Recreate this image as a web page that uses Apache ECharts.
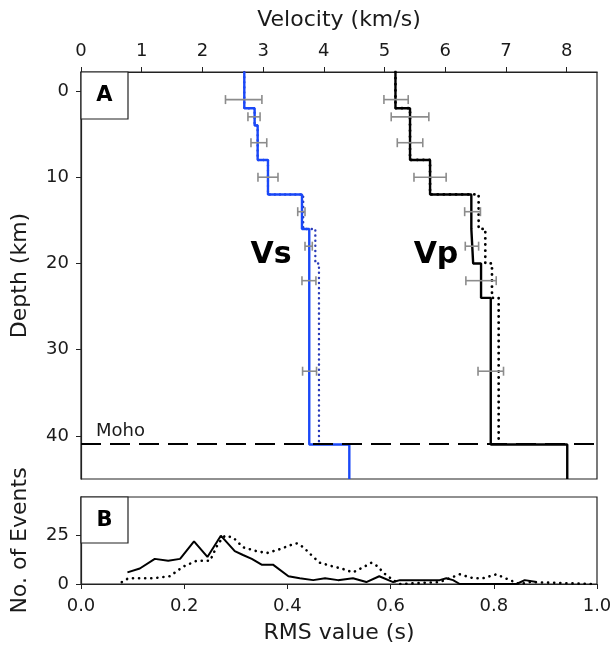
<!DOCTYPE html>
<html>
<head>
<meta charset="utf-8">
<script src="https://cdn.jsdelivr.net/npm/echarts@6/dist/echarts.min.js"></script>
<style>
html,body{margin:0;padding:0;background:#fff;}
#chart{width:615px;height:649px;}
</style>
</head>
<body>
<div id="chart"></div>
<script>
// ---------------- DATA ----------------
// Panel A: velocity models (layer boundaries in km, velocities in km/s)
const vsBounds    = [-2.2, 2, 4, 8, 12, 16, 41, 45];
const vsFinal     = [2.69, 2.86, 2.91, 3.08, 3.64, 3.76, 4.42];
const vsInitBounds= [-2.2, 2, 4, 8, 12, 16, 20, 41];
const vsInitial   = [2.69, 2.86, 2.91, 3.08, 3.66, 3.86, 3.92];

const vpBounds    = [-2.2, 2, 8, 12, 16, 20, 24, 41, 45];
const vpFinal     = [5.18, 5.42, 5.75, 6.43, 6.46, 6.59, 6.75, 8.01];
const vpInitBounds= [-2.2, 2, 8, 12, 16, 20, 24, 41];
const vpInitial   = [5.18, 5.42, 5.75, 6.55, 6.66, 6.77, 6.88];

// Error bars (depth, centre, half-width)
const errDepth    = [1, 3, 6, 10, 14, 18, 22, 32.5];
const vsErrCenter = [2.68, 2.85, 2.93, 3.08, 3.63, 3.75, 3.755, 3.765];
const vsErrHalf   = [0.30, 0.10, 0.13, 0.165, 0.06, 0.06, 0.115, 0.115];
const vpErrCenter = [5.19, 5.42, 5.42, 5.75, 6.45, 6.44, 6.59, 6.75];
const vpErrHalf   = [0.20, 0.31, 0.21, 0.265, 0.13, 0.11, 0.25, 0.21];

const mohoDepth = 40.9;

// Panel B: RMS distributions
const rmsSolidX = [0.090,0.114,0.143,0.169,0.192,0.219,0.245,0.271,0.298,0.314,0.331,0.350,0.372,0.402,0.424,0.450,0.473,0.498,0.527,0.553,0.578,0.605,0.618,0.695,0.708,0.721,0.734,0.844,0.860,0.883];
const rmsSolidN = [6,8,13,12,13,22,14,25,17,15,13,10,10,4,3,2,3,2,3,1,4,1,2,2,3,2,0,0,2,1];
const rmsDotX = [0.079,0.092,0.110,0.140,0.172,0.198,0.224,0.250,0.266,0.279,0.295,0.314,0.340,0.360,0.385,0.405,0.418,0.431,0.450,0.463,0.489,0.505,0.527,0.542,0.563,0.576,0.585,0.605,0.618,0.695,0.734,0.760,0.779,0.805,0.831,0.850,0.870,0.990];
const rmsDotN = [1,3,3,3,4,9,12,12,21,25,24,19,17,16,18,20,21,19,14,11,9,8,6,8,11,9,6,2,0,1,5,3,3,5,2,0,1,0];

// Ticks
const velTicks   = [0,1,2,3,4,5,6,7,8];
const depthTicks = [0,10,20,30,40];
const rmsTicks   = [0,0.2,0.4,0.6,0.8,1.0];
const eventTicks = [0,25];

// ---------------- HELPERS ----------------
function stepPoints(bounds, vals){
  const pts = [];
  for (let i = 0; i < vals.length; i++){
    pts.push([vals[i], bounds[i]]);
    pts.push([vals[i], bounds[i+1]]);
  }
  return pts;
}
function zip2(a, b){ return a.map((v,i)=>[v, b[i]]); }
function zip3(a, b, c){ return a.map((v,i)=>[v, b[i], c[i]]); }

const FONT = '"DejaVu Sans", sans-serif';
const TXT = '#1a1a1a';
const AX = '#222';

function errRender(params, api){
  const c = api.value(0), d = api.value(1), h = api.value(2);
  const p1 = api.coord([c - h, d]);
  const p2 = api.coord([c + h, d]);
  const cap = 4.5;
  const st = {stroke:'#8c8c8c', lineWidth:1.6};
  return {type:'group', children:[
    {type:'line', shape:{x1:p1[0],y1:p1[1],x2:p2[0],y2:p2[1]}, style:st},
    {type:'line', shape:{x1:p1[0],y1:p1[1]-cap,x2:p1[0],y2:p1[1]+cap}, style:st},
    {type:'line', shape:{x1:p2[0],y1:p2[1]-cap,x2:p2[0],y2:p2[1]+cap}, style:st}
  ]};
}

const axisCommon = {
  axisLine:{show:true, onZero:false, lineStyle:{color:AX, width:1.2}},
  splitLine:{show:false},
  nameTextStyle:{fontFamily:FONT, fontSize:22, color:TXT},
};

const blue = '#1a48f8';
const blueDot = '#2a3ab8';

const option = {
  animation:false,
  backgroundColor:'#fff',
  grid:[
    {left:81, top:72, width:516, height:407, show:true, borderColor:AX, borderWidth:1.2, containLabel:false, outerBoundsMode:'none'},
    {left:81, top:497, width:516, height:87, show:true, borderColor:AX, borderWidth:1.2, containLabel:false, outerBoundsMode:'none'}
  ],
  xAxis:[
    Object.assign({}, axisCommon, {
      gridIndex:0, type:'value', position:'top', min:0, max:8.5,
      name:'Velocity (km/s)', nameLocation:'middle', nameGap:41,
      axisTick:{show:true, length:5, inside:false, lineStyle:{color:AX}, customValues:velTicks},
      axisLabel:{fontFamily:FONT, fontSize:18, color:TXT, margin:12, customValues:velTicks}
    }),
    Object.assign({}, axisCommon, {
      gridIndex:1, type:'value', position:'bottom', min:0, max:1, interval:0.2,
      name:'RMS value (s)', nameLocation:'middle', nameGap:38,
      axisTick:{show:true, length:5, inside:false, lineStyle:{color:AX}, customValues:rmsTicks},
      axisLabel:{fontFamily:FONT, fontSize:18, color:TXT, margin:13, customValues:rmsTicks,
                 formatter:(v)=>Number(v).toFixed(1)}
    })
  ],
  yAxis:[
    Object.assign({}, axisCommon, {
      gridIndex:0, type:'value', inverse:true, min:-2.2, max:45,
      name:'Depth (km)', nameLocation:'middle', nameGap:50,
      axisTick:{show:true, length:5, inside:false, lineStyle:{color:AX}, customValues:depthTicks},
      axisLabel:{fontFamily:FONT, fontSize:18, color:TXT, margin:12, customValues:depthTicks}
    }),
    Object.assign({}, axisCommon, {
      gridIndex:1, type:'value', min:0, max:45,
      name:'No. of Events', nameLocation:'middle', nameGap:50,
      axisTick:{show:true, length:5, inside:false, lineStyle:{color:AX}, customValues:eventTicks},
      axisLabel:{fontFamily:FONT, fontSize:18, color:TXT, margin:12, customValues:eventTicks}
    })
  ],
  series:[
    {type:'line', xAxisIndex:0, yAxisIndex:0, data:stepPoints(vsInitBounds, vsInitial),
     showSymbol:false, silent:true, z:2,
     lineStyle:{color:blueDot, width:2.4, type:[0.1,5], cap:'round'}},
    {type:'line', xAxisIndex:0, yAxisIndex:0, data:stepPoints(vpInitBounds, vpInitial),
     showSymbol:false, silent:true, z:2,
     lineStyle:{color:'#000', width:2.8, type:[0.1,6], cap:'round'}},
    {type:'line', xAxisIndex:0, yAxisIndex:0, data:stepPoints(vsBounds, vsFinal),
     showSymbol:false, silent:true, z:3,
     lineStyle:{color:blue, width:2.4}},
    {type:'line', xAxisIndex:0, yAxisIndex:0, data:stepPoints(vpBounds, vpFinal),
     showSymbol:false, silent:true, z:3,
     lineStyle:{color:'#000', width:2.4},
     markLine:{silent:true, symbol:'none', animation:false,
       data:[{yAxis:mohoDepth}],
       lineStyle:{color:'#000', width:2, type:[20,9]},
       label:{show:false}}},
    {type:'custom', xAxisIndex:0, yAxisIndex:0, z:4, silent:true,
     data:zip3(vsErrCenter, errDepth, vsErrHalf), encode:{x:0, y:1}, renderItem:errRender},
    {type:'custom', xAxisIndex:0, yAxisIndex:0, z:4, silent:true,
     data:zip3(vpErrCenter, errDepth, vpErrHalf), encode:{x:0, y:1}, renderItem:errRender},
    {type:'line', xAxisIndex:1, yAxisIndex:1, data:zip2(rmsDotX, rmsDotN),
     showSymbol:false, silent:true,
     lineStyle:{color:'#000', width:2.6, type:[0.1,6], cap:'round'}},
    {type:'line', xAxisIndex:1, yAxisIndex:1, data:zip2(rmsSolidX, rmsSolidN),
     showSymbol:false, silent:true,
     lineStyle:{color:'#000', width:2}}
  ],
  graphic:[
    {type:'rect', shape:{x:81, y:72, width:47, height:47}, style:{fill:'#fff', stroke:AX, lineWidth:1.2}, z:100},
    {type:'text', x:104.5, y:96, z:101, style:{text:'A', font:'bold 21px "DejaVu Sans"', fill:'#000',
      textAlign:'center', textVerticalAlign:'middle', align:'center', verticalAlign:'middle'}},
    {type:'rect', shape:{x:81, y:497, width:47, height:46}, style:{fill:'#fff', stroke:AX, lineWidth:1.2}, z:100},
    {type:'text', x:104.5, y:520.5, z:101, style:{text:'B', font:'bold 21px "DejaVu Sans"', fill:'#000',
      textAlign:'center', textVerticalAlign:'middle', align:'center', verticalAlign:'middle'}},
    {type:'text', x:271, y:255, z:101, style:{text:'Vs', font:'bold 30px "DejaVu Sans"', fill:'#000',
      textAlign:'center', textVerticalAlign:'middle', align:'center', verticalAlign:'middle'}},
    {type:'text', x:436, y:255, z:101, style:{text:'Vp', font:'bold 30px "DejaVu Sans"', fill:'#000',
      textAlign:'center', textVerticalAlign:'middle', align:'center', verticalAlign:'middle'}},
    {type:'text', x:96, y:431, z:101, style:{text:'Moho', font:'18px "DejaVu Sans"', fill:TXT,
      textAlign:'left', textVerticalAlign:'middle', align:'left', verticalAlign:'middle'}}
  ]
};

const chart = echarts.init(document.getElementById('chart'), null, {renderer:'canvas'});
chart.setOption(option);
</script>
</body>
</html>
